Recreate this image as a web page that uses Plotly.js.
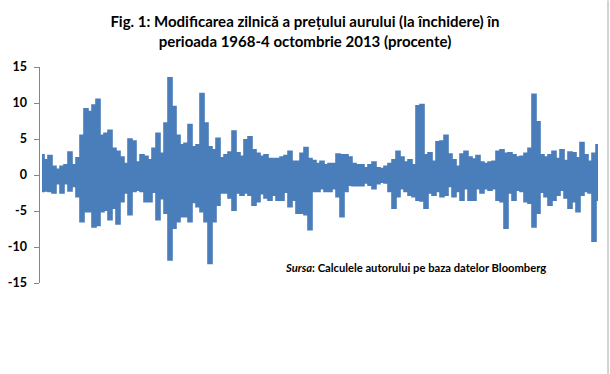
<!DOCTYPE html>
<html>
<head>
<meta charset="utf-8">
<script src="https://cdn.plot.ly/plotly-3.0.1.min.js"></script>
<style>html,body{margin:0;padding:0;background:#fff;}#chart{width:610px;height:374px;}</style>
</head>
<body>
<div id="chart"></div>
<script>
// Daily % change of gold closing price, 1968 - 4 Oct 2013
// read from the picture as local highs (upper) and lows (lower), in chronological order
const upper = [
  2.8, 2.1, 2.7, 1.2, 0.8, 1.2, 1.4, 3.2, 1.4, 2.4, 5.5, 9.2, 8.8, 9.7, 10.5, 5.5, 5.8, 6.2, 3.7, 3.3,
  2.5, 1.6, 5.0, 4.7, 1.8, 2.8, 2.6, 2.1, 3.7, 5.8, 3.0, 7.2, 13.5, 9.5, 5.5, 4.2, 4.4, 7.0, 3.9, 4.2,
  11.3, 7.2, 3.9, 3.5, 5.1, 2.4, 2.8, 3.2, 6.1, 3.1, 2.6, 4.9, 5.3, 3.5, 3.0, 2.6, 2.8, 2.3, 2.3, 2.3,
  2.5, 2.7, 3.3, 1.9, 1.9, 3.0, 3.8, 2.3, 2.0, 1.6, 1.9, 1.4, 1.6, 1.6, 2.9, 2.8, 2.8, 2.5, 1.6, 1.4,
  1.4, 1.0, 1.4, 1.8, 1.0, 0.9, 1.2, 1.6, 2.1, 3.3, 2.5, 1.8, 2.1, 1.4, 9.6, 9.8, 2.8, 3.1, 1.9, 4.6,
  4.7, 5.5, 2.9, 2.1, 1.2, 2.9, 3.3, 2.5, 2.2, 2.7, 1.8, 1.6, 1.8, 1.9, 3.3, 3.5, 3.0, 3.1, 2.8, 2.5,
  2.6, 3.0, 3.7, 11.2, 7.4, 2.8, 2.5, 2.8, 3.3, 2.3, 3.5, 2.0, 3.2, 3.1, 2.4, 4.5, 2.8, 1.9, 3.0, 4.2
];
const lower = [
  -2.3, -2.2, -2.3, -2.5, -1.2, -2.5, -1.2, -2.2, -1.6, -3.0, -6.5, -5.1, -5.1, -7.2, -7.0, -5.1, -4.9, -6.2, -4.6, -6.8,
  -3.7, -2.5, -5.5, -2.3, -2.1, -2.3, -3.7, -3.7, -2.4, -6.2, -3.3, -5.3, -11.8, -7.4, -6.5, -5.8, -5.8, -6.5, -3.8, -4.4,
  -5.1, -6.5, -12.3, -6.5, -4.2, -2.5, -2.5, -3.2, -4.9, -2.5, -2.8, -2.5, -2.8, -4.2, -3.7, -2.6, -3.2, -3.5, -2.8, -3.5,
  -3.5, -2.4, -4.4, -3.5, -5.3, -5.3, -5.5, -7.6, -2.3, -2.3, -1.9, -2.3, -2.3, -1.9, -3.0, -5.8, -2.3, -1.4, -1.5, -1.5,
  -1.5, -1.1, -1.4, -1.9, -1.2, -1.0, -1.1, -2.3, -4.6, -3.0, -1.9, -2.3, -2.8, -3.0, -3.5, -3.6, -4.6, -2.5, -2.8, -2.3,
  -3.0, -2.8, -1.6, -3.0, -2.3, -3.5, -1.9, -3.5, -3.5, -1.9, -2.5, -1.9, -2.1, -1.9, -3.5, -3.7, -7.4, -2.5, -3.5, -2.1,
  -2.3, -3.7, -3.9, -7.2, -5.3, -2.4, -3.0, -4.2, -3.5, -2.8, -2.1, -3.2, -4.6, -3.7, -5.1, -2.8, -2.3, -2.5, -9.2, -3.5
];
const yTicks = [-15, -10, -5, 0, 5, 10, 15];
const yTickText = ['-15', '-10', '-5', '0', '5', '10', '15'];
const titleText = 'Fig. 1: Modificarea zilnică a prețului aurului (la închidere) în<br>perioada 1968-4 octombrie 2013 (procente)';
const sourceText = '<i>Sursa</i>: Calculele autorului pe baza datelor Bloomberg';

const xs = upper.map((_, i) => i);
const BLUE = '#4a7ebb';
const FONT = 'Lato, "Liberation Sans", sans-serif';

Plotly.newPlot('chart', [
  {x: xs, y: lower, type: 'scatter', mode: 'lines',
   line: {color: BLUE, width: 1.6, shape: 'hvh'}, hoverinfo: 'skip'},
  {x: xs, y: upper, type: 'scatter', mode: 'lines', fill: 'tonexty', fillcolor: BLUE,
   line: {color: BLUE, width: 1.6, shape: 'hvh'}, hoverinfo: 'skip'}
], {
  width: 610, height: 374,
  margin: {l: 40, r: 10, t: 67, b: 91},
  paper_bgcolor: '#ffffff', plot_bgcolor: '#ffffff',
  showlegend: false,
  title: {
    text: titleText,
    font: {family: FONT, size: 15, color: '#000000', weight: 'bold'},
    x: 0.5, xref: 'container', xanchor: 'center',
    y: 1 - 27 / 374, yref: 'container', yanchor: 'top'
  },
  xaxis: {
    range: [-0.5, upper.length - 0.5],
    showgrid: false, zeroline: false, showline: false,
    showticklabels: false, ticks: ''
  },
  yaxis: {
    range: [-15, 15],
    tickvals: yTicks, ticktext: yTickText,
    ticks: 'outside', ticklen: 5, tickcolor: '#868686', tickwidth: 1,
    showline: true, linecolor: '#868686', linewidth: 1.5,
    showgrid: false, zeroline: false,
    tickfont: {family: FONT, size: 12.5, color: '#000000', weight: 'bold'},
    ticklabelstandoff: 4
  },
  annotations: [{
    text: sourceText, xref: 'paper', yref: 'paper',
    x: (416 - 40) / 560, y: (283 - 267) / 216.3,
    xanchor: 'center', yanchor: 'middle', showarrow: false,
    font: {family: FONT, size: 11.2, color: '#000000', weight: 'bold'}
  }],
  shapes: [{
    type: 'line', xref: 'paper', yref: 'paper',
    x0: (608 - 40) / 560, x1: (608 - 40) / 560,
    y0: (283 - 374) / 216.3, y1: (283 - 0) / 216.3,
    line: {color: '#a6a6a6', width: 1}
  }]
}, {displayModeBar: false, staticPlot: true});
</script>
</body>
</html>
